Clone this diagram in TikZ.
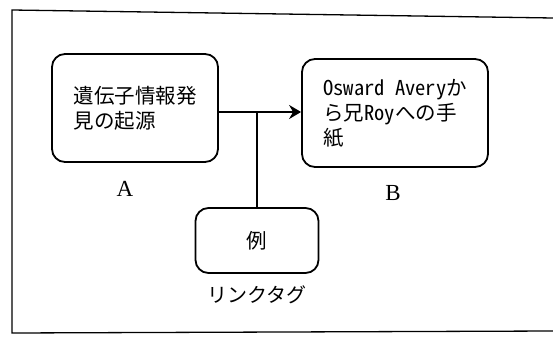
\documentclass[tikz,border=0pt]{standalone}
\usepackage{fontspec}
\setmainfont{Liberation Serif}
\newfontfamily\jp[RawFeature=+hwid]{Noto Sans CJK JP}
\usetikzlibrary{arrows.meta}
\begin{document}
\begin{tikzpicture}[x=1pt,y=-1pt,
  framestyle/.style={line width=1.3pt,black},
  boxstyle/.style={draw,line width=1.8pt,rounded corners=13pt,inner sep=0pt,font=\jp\fontsize{20.5}{25}\selectfont},
  linkstyle/.style={line width=2.8pt,-{Stealth[length=12pt,width=14pt,inset=4pt]}},
  stemstyle/.style={line width=1.5pt},
  lblstyle/.style={font=\fontsize{23}{25}\selectfont,inner sep=0pt}]
\useasboundingbox (0,0) rectangle (553,337);
\fill[white] (0,0) rectangle (553,337);
\draw[framestyle] (553,18) -- (12,10) -- (12,333) -- (553,331);
\node[boxstyle,minimum width=166pt,minimum height=108pt,align=left] (A) at (135,108) {遺伝子情報発\\見の起源};
\node[boxstyle,minimum width=186pt,minimum height=108pt,align=left] (B) at (395,113) {Osward Averyか\\ら兄Royへの手\\紙};
\node[boxstyle,minimum width=123pt,minimum height=65pt] (C) at (257,240.5) {例};
\coordinate (s) at ([yshift=-4pt]A.east);
\draw[linkstyle] (s) -- (s -| B.west);
\draw[stemstyle] (C.north) -- (C.north |- s);
\node[lblstyle] (LA) at (125,189) {A};
\node[lblstyle] (LB) at (393,193) {B};
\node[lblstyle,font=\jp\fontsize{20}{22}\selectfont] (LC) at (257,295) {リンクタグ};
\end{tikzpicture}
\end{document}
